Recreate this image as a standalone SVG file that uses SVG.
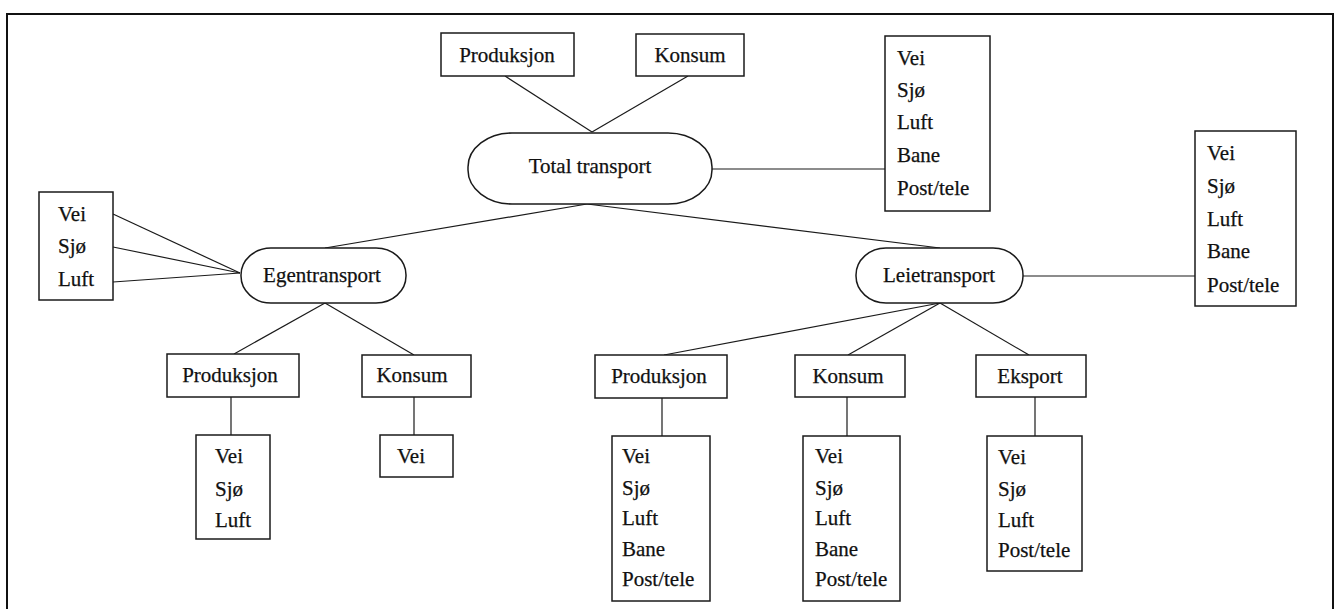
<svg xmlns="http://www.w3.org/2000/svg" width="1338" height="609" viewBox="0 0 1338 609">
<style>
.b{fill:#fff;stroke:#1a1a1a;stroke-width:1.5}
.t{font-family:"Liberation Serif","Times New Roman",serif;font-size:21px;fill:#111;stroke:#111;stroke-width:0.25}
.m{text-anchor:middle}
.c line{stroke:#1a1a1a;stroke-width:1.2}
</style>
<rect width="1338" height="609" fill="#fff"/>
<path d="M7,612 V14 H1333 V612" fill="none" stroke="#111" stroke-width="2"/>
<g class="c">
<line x1="505" y1="76" x2="592" y2="132"/>
<line x1="688" y1="76" x2="592" y2="132"/>
<line x1="712" y1="169" x2="885" y2="169"/>
<line x1="587" y1="204" x2="325" y2="248"/>
<line x1="587" y1="204" x2="940" y2="248"/>
<line x1="113" y1="214" x2="240" y2="273"/>
<line x1="113" y1="247" x2="240" y2="273"/>
<line x1="113" y1="282" x2="240" y2="273"/>
<line x1="1023" y1="276" x2="1195" y2="276"/>
<line x1="325" y1="303" x2="234" y2="354"/>
<line x1="325" y1="303" x2="414" y2="355"/>
<line x1="231" y1="397" x2="231" y2="435"/>
<line x1="414" y1="397" x2="414" y2="435"/>
<line x1="940" y1="303" x2="664" y2="355"/>
<line x1="940" y1="303" x2="848" y2="355"/>
<line x1="940" y1="303" x2="1029" y2="355"/>
<line x1="662" y1="398" x2="662" y2="436"/>
<line x1="847" y1="397" x2="847" y2="436"/>
<line x1="1035" y1="397" x2="1035" y2="436"/>
</g>
<g id="top-produksjon"><rect class="b" x="441" y="33" width="133" height="43"/><text class="t m" x="507" y="62">Produksjon</text></g>
<g id="top-konsum"><rect class="b" x="636" y="34" width="108" height="42"/><text class="t m" x="690" y="62">Konsum</text></g>
<g id="total"><rect class="b" x="468" y="133" width="244" height="71" rx="44" ry="34"/><text class="t m" x="590" y="173">Total transport</text></g>
<g id="total-list"><rect class="b" x="885" y="36" width="105" height="175"/>
<text class="t" x="897" y="65">Vei</text><text class="t" x="897" y="97">Sjø</text><text class="t" x="897" y="129">Luft</text><text class="t" x="897" y="162">Bane</text><text class="t" x="897" y="195">Post/tele</text></g>
<g id="egen"><rect class="b" x="241" y="248" width="165" height="55" rx="30" ry="27"/><text class="t m" x="322" y="282">Egentransport</text></g>
<g id="egen-list"><rect class="b" x="39" y="192" width="74" height="108"/>
<text class="t" x="58" y="221">Vei</text><text class="t" x="58" y="253">Sjø</text><text class="t" x="58" y="286">Luft</text></g>
<g id="leie"><rect class="b" x="856" y="248" width="167" height="55" rx="30" ry="27"/><text class="t m" x="939" y="282">Leietransport</text></g>
<g id="leie-list"><rect class="b" x="1195" y="131" width="101" height="175"/>
<text class="t" x="1207" y="160">Vei</text><text class="t" x="1207" y="193">Sjø</text><text class="t" x="1207" y="226">Luft</text><text class="t" x="1207" y="258">Bane</text><text class="t" x="1207" y="292">Post/tele</text></g>
<g id="egen-produksjon"><rect class="b" x="167" y="354" width="132" height="43"/><text class="t m" x="230" y="382">Produksjon</text></g>
<g id="egen-konsum"><rect class="b" x="362" y="355" width="109" height="42"/><text class="t m" x="412" y="382">Konsum</text></g>
<g id="egen-produksjon-list"><rect class="b" x="196" y="435" width="74" height="104"/>
<text class="t" x="215" y="463">Vei</text><text class="t" x="215" y="496">Sjø</text><text class="t" x="215" y="527">Luft</text></g>
<g id="egen-konsum-list"><rect class="b" x="380" y="435" width="73" height="42"/><text class="t" x="397" y="463">Vei</text></g>
<g id="leie-produksjon"><rect class="b" x="595" y="355" width="132" height="43"/><text class="t m" x="659" y="383">Produksjon</text></g>
<g id="leie-konsum"><rect class="b" x="795" y="355" width="110" height="42"/><text class="t m" x="848" y="383">Konsum</text></g>
<g id="leie-eksport"><rect class="b" x="976" y="355" width="110" height="42"/><text class="t m" x="1030" y="383">Eksport</text></g>
<g id="leie-produksjon-list"><rect class="b" x="612" y="436" width="98" height="165"/>
<text class="t" x="622" y="463">Vei</text><text class="t" x="622" y="495">Sjø</text><text class="t" x="622" y="525">Luft</text><text class="t" x="622" y="556">Bane</text><text class="t" x="622" y="586">Post/tele</text></g>
<g id="leie-konsum-list"><rect class="b" x="803" y="436" width="97" height="165"/>
<text class="t" x="815" y="463">Vei</text><text class="t" x="815" y="495">Sjø</text><text class="t" x="815" y="525">Luft</text><text class="t" x="815" y="556">Bane</text><text class="t" x="815" y="586">Post/tele</text></g>
<g id="leie-eksport-list"><rect class="b" x="987" y="436" width="95" height="135"/>
<text class="t" x="998" y="464">Vei</text><text class="t" x="998" y="496">Sjø</text><text class="t" x="998" y="527">Luft</text><text class="t" x="998" y="557">Post/tele</text></g>
</svg>
